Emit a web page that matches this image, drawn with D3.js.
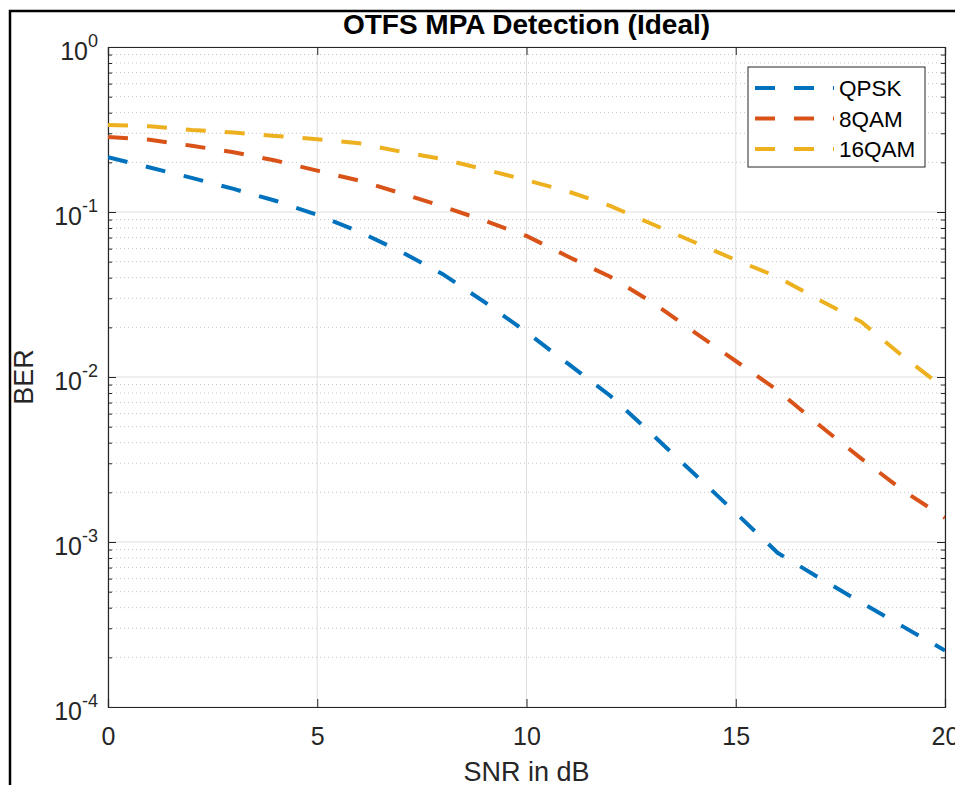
<!DOCTYPE html>
<html>
<head>
<meta charset="utf-8">
<script src="https://cdn.jsdelivr.net/npm/d3@7"></script>
<style>
  html, body { margin: 0; padding: 0; background: #fff; }
  svg { display: block; font-family: "Liberation Sans", Arial, Helvetica, sans-serif; }
</style>
</head>
<body>
<svg id="chart" width="955" height="785"></svg>
<script>
// ---- data ----
const snr = [0,1,2,3,4,5,6,7,8,9,10,11,12,13,14,15,16,17,18,19,20];
const qpsk = [0.215,0.186,0.161,0.138,0.117,0.096,0.076,0.0575,0.042,0.0284,0.0187,0.012,0.0077,0.0045,0.0026,0.0015,0.00086,0.000605,0.00043,0.000307,0.00022];
const qam8 = [0.285,0.274,0.252,0.230,0.205,0.178,0.155,0.130,0.108,0.0886,0.0716,0.0536,0.0405,0.0284,0.0188,0.0125,0.0083,0.0051,0.0032,0.00205,0.0014];
const qam16 = [0.337,0.331,0.314,0.303,0.289,0.276,0.261,0.232,0.209,0.181,0.156,0.133,0.109,0.0846,0.0658,0.0512,0.0404,0.0293,0.0216,0.0133,0.0085];
const seriesNames = ["QPSK","8QAM","16QAM"];
const seriesColors = ["#0072BD","#D95319","#EDB120"];
const xTicks = [0,5,10,15,20];
const yExponents = [0,-1,-2,-3,-4];
const titleText = "OTFS MPA Detection (Ideal)";
const xLabel = "SNR in dB";
const yLabel = "BER";

const series = [qpsk, qam8, qam16];

// ---- layout ----
const svg = d3.select("#chart");
const L = 108, R = 945, T = 47, B = 707;
const x = d3.scaleLinear().domain([0,20]).range([L,R]);
const y = d3.scaleLog().domain([1e-4,1]).range([B,T]);
const axisColor = "#262626";

// outer figure border
svg.append("rect").attr("x",10).attr("y",11).attr("width",1000).attr("height",900)
  .attr("fill","none").attr("stroke","#000").attr("stroke-width",2.5);

// clip
svg.append("clipPath").attr("id","clip").append("rect")
  .attr("x",L).attr("y",T).attr("width",R-L).attr("height",B-T);

const grid = svg.append("g");
// minor y grid (dotted)
const minorVals = [];
for (let e=-4; e<0; e++) for (let m=2; m<=9; m++) minorVals.push(m*Math.pow(10,e));
grid.selectAll(".ymin").data(minorVals).enter().append("line")
  .attr("x1",L).attr("x2",R).attr("y1",d=>y(d)).attr("y2",d=>y(d))
  .attr("stroke","#c4c4c4").attr("stroke-width",1).attr("stroke-dasharray","1,3");
// major grids
grid.selectAll(".ymaj").data(yExponents.map(e=>Math.pow(10,e))).enter().append("line")
  .attr("x1",L).attr("x2",R).attr("y1",d=>y(d)).attr("y2",d=>y(d))
  .attr("stroke","#dfdfdf").attr("stroke-width",1);
grid.selectAll(".xmaj").data(xTicks).enter().append("line")
  .attr("x1",d=>x(d)).attr("x2",d=>x(d)).attr("y1",T).attr("y2",B)
  .attr("stroke","#dfdfdf").attr("stroke-width",1);

// axes (D3 axes with inward ticks)
const xAxisB = d3.axisBottom(x).tickValues(xTicks).tickSize(-8).tickPadding(20).tickFormat(d3.format("d"));
const gxb = svg.append("g").attr("transform",`translate(0,${B})`).call(xAxisB);
const xAxisT = d3.axisTop(x).tickValues(xTicks).tickSize(-8).tickFormat("");
const gxt = svg.append("g").attr("transform",`translate(0,${T})`).call(xAxisT);
const yAxisL = d3.axisLeft(y).tickValues(yExponents.map(e=>Math.pow(10,e))).tickSize(-8).tickFormat("");
const gyl = svg.append("g").attr("transform",`translate(${L},0)`).call(yAxisL);
const yAxisR = d3.axisRight(y).tickValues(yExponents.map(e=>Math.pow(10,e))).tickSize(-8).tickFormat("");
const gyr = svg.append("g").attr("transform",`translate(${R},0)`).call(yAxisR);
const yMinL = d3.axisLeft(y).tickValues(minorVals).tickSize(-4).tickFormat("");
const gyml = svg.append("g").attr("transform",`translate(${L},0)`).call(yMinL);
const yMinR = d3.axisRight(y).tickValues(minorVals).tickSize(-4).tickFormat("");
const gymr = svg.append("g").attr("transform",`translate(${R},0)`).call(yMinR);
[gxb,gxt,gyl,gyr,gyml,gymr].forEach(g=>{
  g.selectAll("path").attr("stroke",axisColor).attr("stroke-width",1.2);
  g.selectAll("line").attr("stroke",axisColor).attr("stroke-width",1);
});
gxb.selectAll("text").attr("fill",axisColor).style("font-size","25px")
  .style("font-family","'Liberation Sans', Arial, sans-serif").attr("dy","0.71em");
[gyml,gymr].forEach(g=>g.select("path").remove());

// y tick labels with superscripts
const yl = svg.append("g");
yExponents.forEach(e=>{
  const t = yl.append("text").attr("x",98).attr("y",y(Math.pow(10,e))+13)
    .attr("text-anchor","end").attr("fill",axisColor);
  t.append("tspan").text("10").style("font-size","25px");
  t.append("tspan").text(String(e)).style("font-size","18px").attr("dy",-13);
});

// data lines
const line = d3.line().x((d,i)=>x(snr[i])).y(d=>y(d));
const lines = svg.append("g").attr("clip-path","url(#clip)");
series.forEach((s,k)=>{
  lines.append("path").datum(s).attr("d",line).attr("fill","none")
    .attr("stroke",seriesColors[k]).attr("stroke-width",4)
    .attr("stroke-dasharray","20,19");
});

// legend
const lg = svg.append("g");
lg.append("rect").attr("x",748).attr("y",67).attr("width",177).attr("height",100)
  .attr("fill","#fff").attr("stroke",axisColor).attr("stroke-width",1);
seriesNames.forEach((n,k)=>{
  const cy = 88 + k*30.5;
  lg.append("line").attr("x1",755).attr("x2",834).attr("y1",cy).attr("y2",cy)
    .attr("stroke",seriesColors[k]).attr("stroke-width",4).attr("stroke-dasharray","20,19");
  lg.append("text").attr("x",839).attr("y",cy+8).text(n)
    .attr("fill","#000").style("font-size","22.5px");
});

// title & labels
svg.append("text").attr("x",(L+R)/2).attr("y",34).attr("text-anchor","middle")
  .style("font-size","28px").style("font-weight","bold").attr("fill","#000").text(titleText);
svg.append("text").attr("x",(L+R)/2).attr("y",781).attr("text-anchor","middle")
  .style("font-size","27px").attr("fill",axisColor).text(xLabel);
svg.append("text").attr("transform",`translate(33,${(T+B)/2}) rotate(-90)`)
  .attr("text-anchor","middle").style("font-size","27px").attr("fill",axisColor).text(yLabel);
</script>
</body>
</html>
